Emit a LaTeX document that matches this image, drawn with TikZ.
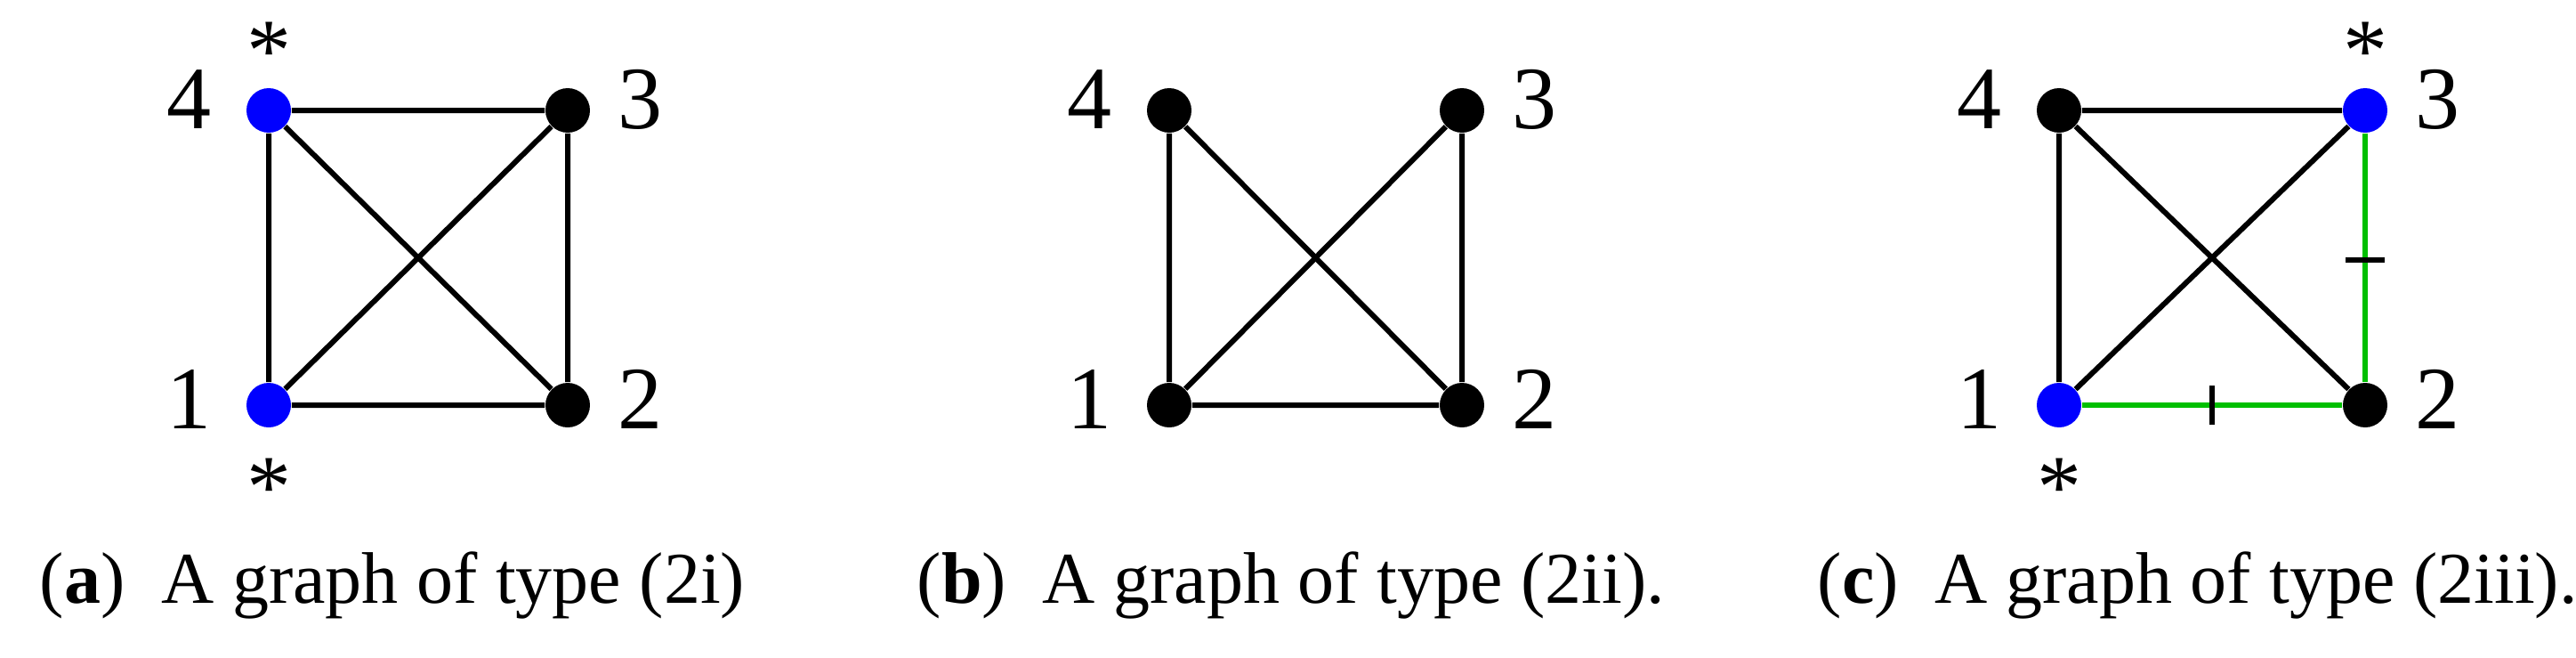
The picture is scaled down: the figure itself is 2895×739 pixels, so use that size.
\documentclass[tikz,border=0pt]{standalone}
\usepackage{fontspec}
\setmainfont{Liberation Serif}
\begin{document}
\begin{tikzpicture}[x=0.25pt,y=-0.25pt,
  vtx/.style={circle,fill=black,inner sep=0pt,minimum size=12.5pt},
  bvtx/.style={vtx,fill=blue},
  lab/.style={font=\fontsize{25}{25}\selectfont,inner sep=0pt},
  captext/.style={font=\fontsize{20.5}{22}\selectfont,inner sep=0pt},
  edge/.style={line width=1.5pt},
  gedge/.style={line width=1.5pt,draw=green!75!black}]
\useasboundingbox (0,0) rectangle (2895,739);
% (a)
\node[bvtx] (a4) at (302,124) {};
\node[vtx] (a3) at (638,124) {};
\node[bvtx] (a1) at (302,455) {};
\node[vtx] (a2) at (638,455) {};
\draw[edge] (a4)--(a3) (a3)--(a2) (a2)--(a1) (a1)--(a4) (a4)--(a2) (a1)--(a3);
\node[lab] (la4) at ([shift={(-90,-12)}]a4) {4};
\node[lab] (la3) at ([shift={(81,-12)}]a3) {3};
\node[lab] (la1) at ([shift={(-90,-7)}]a1) {1};
\node[lab] (la2) at ([shift={(81,-7)}]a2) {2};
\node[lab] (sa4) at (302,58) {*};
\node[lab] (sa1) at (302,548) {*};
\node[captext,anchor=west] (ca) at (44,657) {(\textbf{a})\ \ A graph of type (2i)};
% (b)
\node[vtx] (b4) at (1314,124) {};
\node[vtx] (b3) at (1643,124) {};
\node[vtx] (b1) at (1314,455) {};
\node[vtx] (b2) at (1643,455) {};
\draw[edge] (b3)--(b2) (b2)--(b1) (b1)--(b4) (b4)--(b2) (b1)--(b3);
\node[lab] (lb4) at ([shift={(-90,-12)}]b4) {4};
\node[lab] (lb3) at ([shift={(81,-12)}]b3) {3};
\node[lab] (lb1) at ([shift={(-90,-7)}]b1) {1};
\node[lab] (lb2) at ([shift={(81,-7)}]b2) {2};
\node[captext,anchor=west] (cb) at (1030,657) {(\textbf{b})\ \ A graph of type (2ii).};
% (c)
\node[vtx] (c4) at (2314,124) {};
\node[bvtx] (c3) at (2658,124) {};
\node[bvtx] (c1) at (2314,455) {};
\node[vtx] (c2) at (2658,455) {};
\draw[edge] (c4)--(c3) (c1)--(c4) (c4)--(c2) (c1)--(c3);
\draw[gedge] (c3)--(c2) (c2)--(c1);
\coordinate (t1) at (2658,292);
\coordinate (t2) at (2486,455);
\draw[edge] ([xshift=-5.5pt]t1)--([xshift=5.5pt]t1);
\draw[edge] ([yshift=-5.5pt]t2)--([yshift=5.5pt]t2);
\node[lab] (lc4) at ([shift={(-90,-12)}]c4) {4};
\node[lab] (lc3) at ([shift={(81,-12)}]c3) {3};
\node[lab] (lc1) at ([shift={(-90,-7)}]c1) {1};
\node[lab] (lc2) at ([shift={(81,-7)}]c2) {2};
\node[lab] (sc3) at (2658,58) {*};
\node[lab] (sc1) at (2314,548) {*};
\node[captext,anchor=west] (cc) at (2042,657) {(\textbf{c})\ \ A graph of type (2iii).};
\end{tikzpicture}
\end{document}
